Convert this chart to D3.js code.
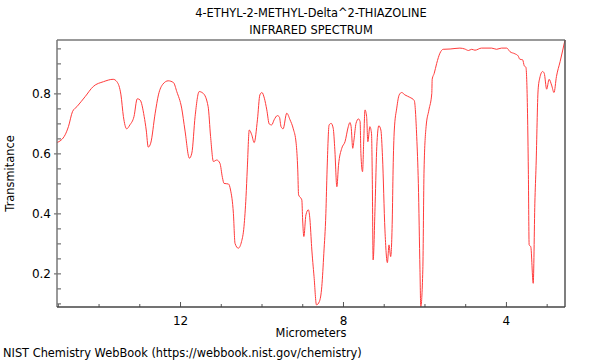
<!DOCTYPE html>
<html>
<head>
<meta charset="utf-8">
<script src="https://cdn.jsdelivr.net/npm/d3@7"></script>
<style>
  body { margin: 0; background: #fff; }
  svg text { font-family: "DejaVu Sans", sans-serif; fill: #000; }
</style>
</head>
<body>
<svg id="chart" width="600" height="360"></svg>
<script>
// spectrum: wavelength (micrometers) and transmittance
const wavelength = [
  15.02, 14.82, 14.74, 14.64, 14.53, 14.33, 14.13, 13.88, 13.64, 13.55,
  13.45, 13.39, 13.31, 13.23, 13.13, 13.05, 12.98, 12.88, 12.83, 12.78,
  12.72, 12.61, 12.53, 12.42, 12.29, 12.16, 12.08, 11.96, 11.88, 11.77,
  11.71, 11.63, 11.53, 11.43, 11.31, 11.25, 11.18, 11.10, 11.02, 10.96,
  10.92, 10.81, 10.76, 10.69, 10.65, 10.57, 10.49, 10.43, 10.38, 10.35,
  10.30, 10.24, 10.18, 10.10, 10.04, 9.99, 9.93, 9.87, 9.81, 9.75,
  9.69, 9.61, 9.56, 9.52, 9.47, 9.38, 9.30, 9.22, 9.15, 9.11,
  9.09, 9.01, 8.99, 8.96, 8.91, 8.85, 8.81, 8.77, 8.71, 8.65,
  8.58, 8.52, 8.47, 8.42, 8.39, 8.34, 8.29, 8.24, 8.20, 8.15,
  8.11, 8.03, 7.95, 7.87, 7.83, 7.80, 7.76, 7.73, 7.68, 7.62,
  7.58, 7.56, 7.52, 7.49, 7.46, 7.42, 7.39, 7.34, 7.30, 7.28,
  7.26, 7.21, 7.17, 7.12, 7.07, 7.03, 6.97, 6.91, 6.87, 6.83,
  6.79, 6.77, 6.74, 6.68, 6.62, 6.56, 6.48, 6.36, 6.25, 6.19,
  6.15, 6.11, 6.09, 6.04, 6.01, 5.96, 5.89, 5.82, 5.81, 5.76,
  5.70, 5.62, 5.54, 5.37, 5.13, 5.01, 4.92, 4.84, 4.76, 4.60,
  4.35, 4.23, 4.11, 3.98, 3.90, 3.78, 3.70, 3.66, 3.59, 3.55,
  3.51, 3.47, 3.45, 3.43, 3.39, 3.33, 3.29, 3.26, 3.21, 3.17,
  3.10, 3.06, 3.00, 2.94, 2.88, 2.82, 2.76, 2.67, 2.55
];
const transmittance = [
  0.636, 0.662, 0.689, 0.739, 0.756, 0.789, 0.823, 0.839, 0.847, 0.839,
  0.795, 0.723, 0.682, 0.695, 0.723, 0.782, 0.778, 0.723, 0.678, 0.621,
  0.634, 0.734, 0.795, 0.831, 0.842, 0.836, 0.806, 0.751, 0.678, 0.584,
  0.601, 0.723, 0.806, 0.800, 0.756, 0.656, 0.573, 0.578, 0.567, 0.520,
  0.500, 0.498, 0.478, 0.400, 0.300, 0.284, 0.306, 0.356, 0.456, 0.545,
  0.678, 0.662, 0.636, 0.712, 0.795, 0.803, 0.784, 0.745, 0.698, 0.695,
  0.712, 0.726, 0.721, 0.689, 0.682, 0.734, 0.712, 0.682, 0.634, 0.545,
  0.462, 0.445, 0.378, 0.323, 0.395, 0.412, 0.378, 0.289, 0.189, 0.095,
  0.106, 0.156, 0.267, 0.400, 0.545, 0.695, 0.700, 0.684, 0.612, 0.489,
  0.560, 0.617, 0.639, 0.689, 0.703, 0.689, 0.617, 0.645, 0.700, 0.715,
  0.706, 0.600, 0.539, 0.645, 0.745, 0.723, 0.639, 0.689, 0.667, 0.512,
  0.245, 0.434, 0.623, 0.692, 0.678, 0.589, 0.345, 0.236, 0.295, 0.256,
  0.378, 0.545, 0.678, 0.751, 0.795, 0.803, 0.795, 0.787, 0.776, 0.656,
  0.500, 0.212, 0.089, 0.212, 0.545, 0.689, 0.745, 0.800, 0.847, 0.867,
  0.900, 0.934, 0.947, 0.948, 0.951, 0.948, 0.943, 0.947, 0.944, 0.951,
  0.951, 0.947, 0.951, 0.951, 0.939, 0.932, 0.925, 0.914, 0.912, 0.892,
  0.887, 0.734, 0.545, 0.295, 0.289, 0.167, 0.434, 0.560, 0.812, 0.851,
  0.873, 0.867, 0.814, 0.847, 0.828, 0.803, 0.856, 0.906, 0.978
];
const xTickLabels = [12, 8, 4];
const yTickLabels = [0.2, 0.4, 0.6, 0.8];
const titleLines = ["4-ETHYL-2-METHYL-Delta^2-THIAZOLINE", "INFRARED SPECTRUM"];

const plotLeft = 57, plotRight = 565, plotTop = 40, plotBottom = 307;
const fontSize = 11.4;

const svg = d3.select("#chart");

const x = d3.scaleLinear().domain([15.02, 2.55]).range([plotLeft, plotRight]);
const y = d3.scaleLinear().domain([0.088, 0.978]).range([plotBottom, plotTop]);

// minor ticks (inward)
const xAxisMinor = d3.axisBottom(x)
    .tickValues(d3.range(3, 16, 1).filter(v => !xTickLabels.includes(v)))
    .tickSize(-3).tickFormat("");
const xAxisMajor = d3.axisBottom(x)
    .tickValues(xTickLabels).tickSizeInner(-5).tickSizeOuter(0)
    .tickPadding(9).tickFormat(d3.format("d"));

const yMinor = d3.range(0.1, 0.96, 0.05).map(v => +v.toFixed(2))
    .filter(v => !yTickLabels.includes(v));
const yAxisMinor = d3.axisLeft(y).tickValues(yMinor).tickSize(-4).tickFormat("");
const yAxisMajor = d3.axisLeft(y).tickValues(yTickLabels)
    .tickSizeInner(-4).tickSizeOuter(0).tickPadding(6).tickFormat(d3.format(".1f"));

function styleAxis(g) {
    g.select(".domain").remove();
    g.selectAll("line").attr("stroke", "#555");
    g.selectAll("text").attr("font-size", fontSize + 0.6).attr("font-family", "DejaVu Sans");
}

svg.append("g").attr("transform", `translate(0,${plotBottom})`).call(xAxisMinor).call(styleAxis);
svg.append("g").attr("transform", `translate(0,${plotBottom})`).call(xAxisMajor).call(styleAxis);
svg.append("g").attr("transform", `translate(${plotLeft},0)`).call(yAxisMinor).call(styleAxis);
svg.append("g").attr("transform", `translate(${plotLeft},0)`).call(yAxisMajor).call(styleAxis)
    .selectAll(".tick").append("line").attr("x1", -3).attr("x2", 0).attr("stroke", "#555");

// spectrum
const points = wavelength.map((w, i) => [w, transmittance[i]]);
svg.append("path")
    .datum(points)
    .attr("fill", "none")
    .attr("stroke", "#ff3b3b")
    .attr("stroke-width", 1)
    .attr("d", d3.line().curve(d3.curveMonotoneX).x(d => x(d[0])).y(d => y(d[1])));

// frame
svg.append("line").attr("x1", plotLeft).attr("x2", plotRight).attr("y1", plotTop).attr("y2", plotTop)
    .attr("stroke", "#999").attr("stroke-width", 2);
svg.append("line").attr("x1", plotLeft).attr("x2", plotLeft).attr("y1", plotTop).attr("y2", plotBottom)
    .attr("stroke", "#777").attr("stroke-width", 1.5);
svg.append("line").attr("x1", plotRight).attr("x2", plotRight).attr("y1", plotTop).attr("y2", plotBottom)
    .attr("stroke", "#555").attr("stroke-width", 1.5);
svg.append("line").attr("x1", plotLeft).attr("x2", plotRight).attr("y1", plotBottom).attr("y2", plotBottom)
    .attr("stroke", "#444").attr("stroke-width", 1.5);

// titles and labels
svg.selectAll(".title").data(titleLines).enter().append("text")
    .attr("class", "title")
    .attr("x", (plotLeft + plotRight) / 2)
    .attr("y", (d, i) => 17 + i * 17)
    .attr("text-anchor", "middle")
    .attr("font-size", fontSize)
    .text(d => d);

svg.append("text")
    .attr("x", (plotLeft + plotRight) / 2).attr("y", 337)
    .attr("text-anchor", "middle").attr("font-size", fontSize)
    .text("Micrometers");

svg.append("text")
    .attr("transform", `translate(14,${(plotTop + plotBottom) / 2}) rotate(-90)`)
    .attr("text-anchor", "middle").attr("font-size", fontSize)
    .text("Transmitance");

svg.append("text")
    .attr("x", 3).attr("y", 357).attr("font-size", fontSize)
    .text("NIST Chemistry WebBook (https://webbook.nist.gov/chemistry)");
</script>
</body>
</html>
